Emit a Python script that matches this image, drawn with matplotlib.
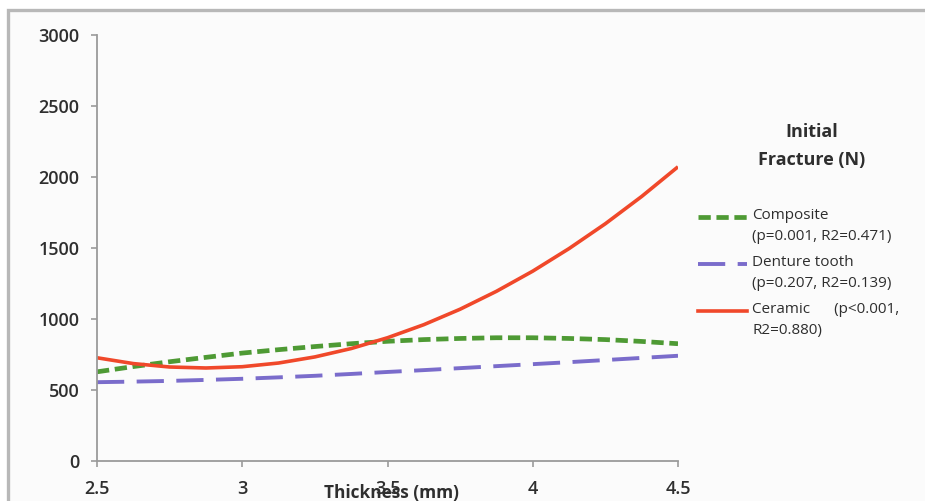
import matplotlib
matplotlib.use("Agg")
import matplotlib.pyplot as plt
from matplotlib.lines import Line2D
from matplotlib.patches import Rectangle

plt.rcParams.update({
    "font.family": ["Open Sans", "DejaVu Sans"],
    "font.size": 11,
})

# ------------------ DATA ------------------
THICKNESS = [2.5, 2.625, 2.75, 2.875, 3.0, 3.125, 3.25, 3.375, 3.5,
             3.625, 3.75, 3.875, 4.0, 4.125, 4.25, 4.375, 4.5]

COMPOSITE = [628, 665, 699, 730, 760, 784, 806, 826, 843,
             855, 863, 868, 868, 863, 855, 842, 826]
DENTURE = [555, 559, 564, 571, 579, 589, 600, 613, 627,
           640, 654, 668, 682, 696, 711, 726, 741]
CERAMIC = [727, 686, 662, 655, 664, 690, 733, 792, 868,
           960, 1069, 1195, 1337, 1496, 1671, 1863, 2072]

SERIES = ["Composite", "Denture tooth", "Ceramic"]
LEGEND_TEXT = ["Composite\n(p=0.001, R2=0.471)",
               "Denture tooth\n(p=0.207, R2=0.139)",
               "Ceramic      (p<0.001,\nR2=0.880)"]
LEGEND_TITLE = "Initial\nFracture (N)"

XTICKS = [2.5, 3, 3.5, 4, 4.5]
XTICK_LABELS = ["2.5", "3", "3.5", "4", "4.5"]
YTICKS = [0, 500, 1000, 1500, 2000, 2500, 3000]

COLORS = ["#4e9a34", "#7a6ccb", "#f0482a"]
STYLES = [(0, (2.6, 1.2)), (0, (7.0, 3.2)), "-"]
WIDTHS = [3.4, 2.8, 2.6]

TEXT_COLOR = "#2e2e2e"
AXIS_COLOR = "#9a9a9a"


def main():
    fig = plt.figure(figsize=(9.25, 5.01), dpi=100)
    fig.patch.set_facecolor("white")

    # grey chart frame, cut off at the bottom and right
    fig.add_artist(Rectangle((8 / 925, -0.1), 1.2, 1.1 - 10 / 501,
                             transform=fig.transFigure, facecolor="#fbfbfb",
                             edgecolor="#b8b8b8", linewidth=2.4, zorder=0))

    ax = fig.add_axes([97 / 925, 1 - 461 / 501, (678 - 97) / 925, (461 - 35) / 501])
    ax.set_facecolor("none")

    for values, color, style, width in zip([COMPOSITE, DENTURE, CERAMIC],
                                           COLORS, STYLES, WIDTHS):
        ax.plot(THICKNESS, values, color=color, linestyle=style, linewidth=width,
                solid_capstyle="butt", dash_capstyle="butt")

    ax.set_xlim(2.5, 4.5)
    ax.set_ylim(0, 3000)
    ax.set_xticks(XTICKS)
    ax.set_xticklabels(XTICK_LABELS)
    ax.set_yticks(YTICKS)

    for side in ["top", "right"]:
        ax.spines[side].set_visible(False)
    for side in ["left", "bottom"]:
        ax.spines[side].set_color(AXIS_COLOR)
        ax.spines[side].set_linewidth(1.3)

    ax.tick_params(axis="both", direction="out", length=4, width=1.2,
                   color=AXIS_COLOR, labelcolor=TEXT_COLOR, labelsize=13)
    ax.tick_params(axis="y", pad=8.5)
    ax.tick_params(axis="x", pad=10)
    for label in ax.get_xticklabels() + ax.get_yticklabels():
        label.set_fontweight("semibold")

    fig.text(392 / 925, 1 - 493 / 501, "Thickness (mm)", ha="center", va="center",
             fontsize=12.4, fontweight="bold", color=TEXT_COLOR)

    # legend, drawn by hand so each key sits on the first line of its label
    fig.text(812 / 925, 1 - 146 / 501, LEGEND_TITLE, ha="center", va="center",
             fontsize=13, fontweight="bold", color=TEXT_COLOR, linespacing=1.7)
    key_rows = [217, 264, 311]
    for label, color, style, width, row in zip(LEGEND_TEXT, COLORS, STYLES,
                                               WIDTHS, key_rows):
        y = 1 - row / 501
        fig.add_artist(Line2D([698 / 925, 747 / 925], [y, y], color=color,
                              linestyle=style, linewidth=width,
                              transform=fig.transFigure))
        fig.text(752 / 925, y + 9 / 501, label, ha="left", va="top",
                 fontsize=11, color=TEXT_COLOR, linespacing=1.55)

    fig.savefig("out.png", dpi=100)


if __name__ == "__main__":
    main()
